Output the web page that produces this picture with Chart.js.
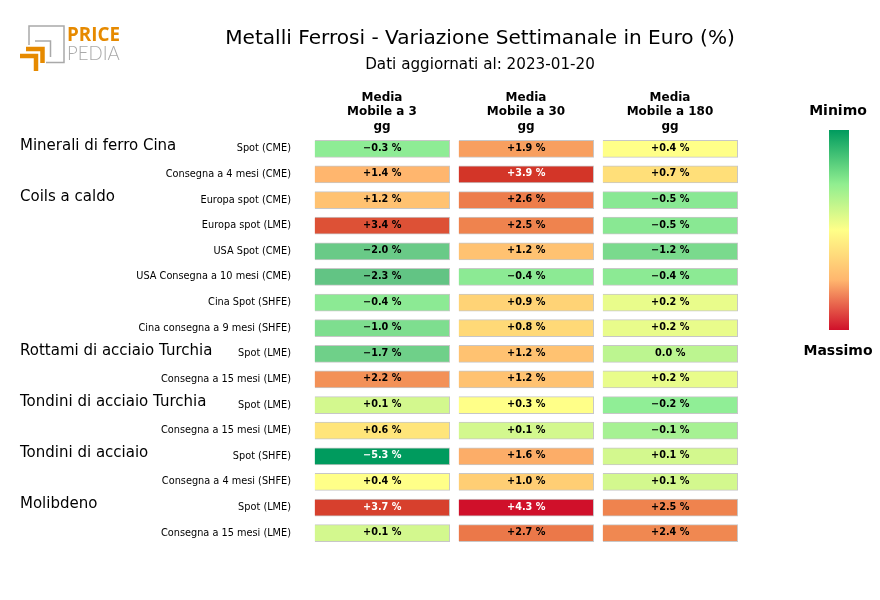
<!DOCTYPE html>
<html>
<head>
<meta charset="utf-8">
<style>
  html, body { margin: 0; padding: 0; background: #fff; }
  #wrap { width: 880px; height: 600px; }
</style>
<script src="https://cdn.jsdelivr.net/npm/chart.js@4"></script>
</head>
<body>
<div id="wrap"><canvas id="chart" width="880" height="600"></canvas></div>
<script>
const rowLabels = [
  'Spot (CME)', 'Consegna a 4 mesi (CME)', 'Europa spot (CME)', 'Europa spot (LME)',
  'USA Spot (CME)', 'USA Consegna a 10 mesi (CME)', 'Cina Spot (SHFE)', 'Cina consegna a 9 mesi (SHFE)',
  'Spot (LME)', 'Consegna a 15 mesi (LME)', 'Spot (LME)', 'Consegna a 15 mesi (LME)',
  'Spot (SHFE)', 'Consegna a 4 mesi (SHFE)', 'Spot (LME)', 'Consegna a 15 mesi (LME)'
];
const ma3 = [-0.3, 1.4, 1.2, 3.4, -2.0, -2.3, -0.4, -1.0, -1.7, 2.2, 0.1, 0.6, -5.3, 0.4, 3.7, 0.1];
const ma30 = [1.9, 3.9, 2.6, 2.5, 1.2, -0.4, 0.9, 0.8, 1.2, 1.2, 0.3, 0.1, 1.6, 1.0, 4.3, 2.7];
const ma180 = [0.4, 0.7, -0.5, -0.5, -1.2, -0.4, 0.2, 0.2, 0.0, 0.2, -0.2, -0.1, 0.1, 0.1, 2.5, 2.4];
const columnHeaders = [['Media', 'Mobile a 3', 'gg'], ['Media', 'Mobile a 30', 'gg'], ['Media', 'Mobile a 180', 'gg']];
const groupNames = ['Minerali di ferro Cina', 'Coils a caldo', 'Rottami di acciaio Turchia', 'Tondini di acciaio Turchia', 'Tondini di acciaio', 'Molibdeno'];
const groupRows = [0, 2, 8, 10, 12, 14];

// colour scale: value -> colour
const scaleValues = [-5.3, -2.3, -0.2, 0.3, 0.4, 0.6, 1.4, 2.5, 3.9, 4.3];
const scaleColors = [[0, 155, 94], [98, 196, 132], [144, 238, 150], [255, 255, 136], [255, 255, 136], [255, 229, 122], [255, 182, 110], [239, 131, 78], [211, 53, 40], [208, 16, 42]];

function colorFor(v) {
  let i = 0;
  while (i < scaleValues.length - 2 && v > scaleValues[i + 1]) i++;
  const t = Math.min(1, Math.max(0, (v - scaleValues[i]) / (scaleValues[i + 1] - scaleValues[i])));
  const c = scaleColors[i].map((a, k) => Math.round(a + (scaleColors[i + 1][k] - a) * t));
  return 'rgb(' + c.join(',') + ')';
}

function cellText(v) {
  if (v === 0) return '0.0 %';
  return (v > 0 ? '+' : '\u2212') + Math.abs(v).toFixed(1) + ' %';
}

function makeDataset(values, col) {
  return {
    data: values.map(() => [col - 0.467, col + 0.47]),
    backgroundColor: values.map(colorFor),
    borderColor: 'rgba(0,0,0,0.22)',
    borderWidth: 1,
    barThickness: 17,
    grouped: false,
    values: values
  };
}

const FONT = '"DejaVu Sans"';

const extras = {
  id: 'extras',
  afterDatasetsDraw(chart) {
    const ctx = chart.ctx;
    const y = chart.scales.y;
    ctx.save();

    // values inside the cells
    ctx.textAlign = 'center';
    ctx.textBaseline = 'middle';
    ctx.font = 'bold 9.7px ' + FONT;
    chart.data.datasets.forEach((ds, d) => {
      chart.getDatasetMeta(d).data.forEach((bar, i) => {
        const v = ds.values[i];
        ctx.fillStyle = Math.abs(v) >= 3.7 ? '#fff' : '#000';
        ctx.fillText(cellText(v), (bar.x + bar.base) / 2, bar.y - 0.5);
      });
    });

    // group names
    ctx.textAlign = 'left';
    ctx.fillStyle = '#000';
    ctx.font = '15px ' + FONT;
    groupNames.forEach((name, i) => {
      ctx.fillText(name, 20, y.getPixelForValue(groupRows[i]) - 3);
    });

    // title
    ctx.textAlign = 'center';
    ctx.font = '20.1px ' + FONT;
    ctx.fillText('Metalli Ferrosi - Variazione Settimanale in Euro (%)', 480, 39);
    ctx.font = '15.2px ' + FONT;
    ctx.fillText('Dati aggiornati al: 2023-01-20', 480, 65);

    // colorbar
    const grad = ctx.createLinearGradient(0, 130, 0, 330);
    grad.addColorStop(0, 'rgb(0,155,94)');
    grad.addColorStop(0.27, 'rgb(144,238,144)');
    grad.addColorStop(0.5, 'rgb(255,255,136)');
    grad.addColorStop(0.75, 'rgb(255,182,110)');
    grad.addColorStop(1, 'rgb(208,16,42)');
    ctx.fillStyle = grad;
    ctx.fillRect(829, 130, 20, 200);
    ctx.fillStyle = '#000';
    ctx.font = 'bold 14px ' + FONT;
    ctx.fillText('Minimo', 838, 111);
    ctx.fillText('Massimo', 838, 351);

    // logo
    ctx.strokeStyle = '#a9a9a9';
    ctx.lineWidth = 1.5;
    ctx.beginPath();
    ctx.moveTo(29, 45); ctx.lineTo(29, 26); ctx.lineTo(64, 26); ctx.lineTo(64, 62.5); ctx.lineTo(46, 62.5);
    ctx.moveTo(35, 41); ctx.lineTo(50.5, 41); ctx.lineTo(50.5, 57);
    ctx.stroke();
    ctx.strokeStyle = '#e68a00';
    ctx.lineWidth = 4.5;
    ctx.beginPath();
    ctx.moveTo(20, 56); ctx.lineTo(36, 56); ctx.lineTo(36, 71);
    ctx.moveTo(26, 49); ctx.lineTo(42.5, 49); ctx.lineTo(42.5, 63);
    ctx.stroke();
    ctx.textAlign = 'left';
    ctx.fillStyle = '#e68a00';
    ctx.font = 'bold 18.8px "Open Sans"';
    ctx.fillText('PRICE', 67, 36);
    ctx.fillStyle = '#a9a9a9';
    ctx.font = '300 18.6px Lato';
    ctx.fillText('PEDIA', 67, 54);
    ctx.restore();
  }
};

new Chart(document.getElementById('chart'), {
  type: 'bar',
  data: {
    labels: rowLabels,
    datasets: [makeDataset(ma3, 0), makeDataset(ma30, 1), makeDataset(ma180, 2)]
  },
  plugins: [extras],
  options: {
    indexAxis: 'y',
    responsive: false,
    animation: false,
    layout: { padding: { top: 0, right: 138, bottom: 54, left: 0 } },
    plugins: { legend: { display: false }, tooltip: { enabled: false } },
    scales: {
      x: {
        type: 'linear',
        position: 'top',
        min: -0.5,
        max: 2.5,
        grid: { display: false, drawTicks: false },
        border: { display: false },
        afterBuildTicks(axis) { axis.ticks = [{ value: 0 }, { value: 1 }, { value: 2 }]; },
        afterFit(axis) { axis.height = 136; },
        ticks: {
          autoSkip: false,
          maxRotation: 0,
          padding: 2,
          color: '#000',
          font: { family: 'DejaVu Sans', size: 12, weight: 'bold', lineHeight: 1.22 },
          callback: (v) => columnHeaders[v]
        }
      },
      y: {
        type: 'category',
        grid: { display: false, drawTicks: false },
        border: { display: false },
        afterFit(axis) { axis.width = 310; },
        ticks: {
          autoSkip: false,
          padding: 19,
          color: '#000',
          font: { family: 'DejaVu Sans', size: 9.75 }
        }
      }
    }
  }
});
</script>
</body>
</html>
